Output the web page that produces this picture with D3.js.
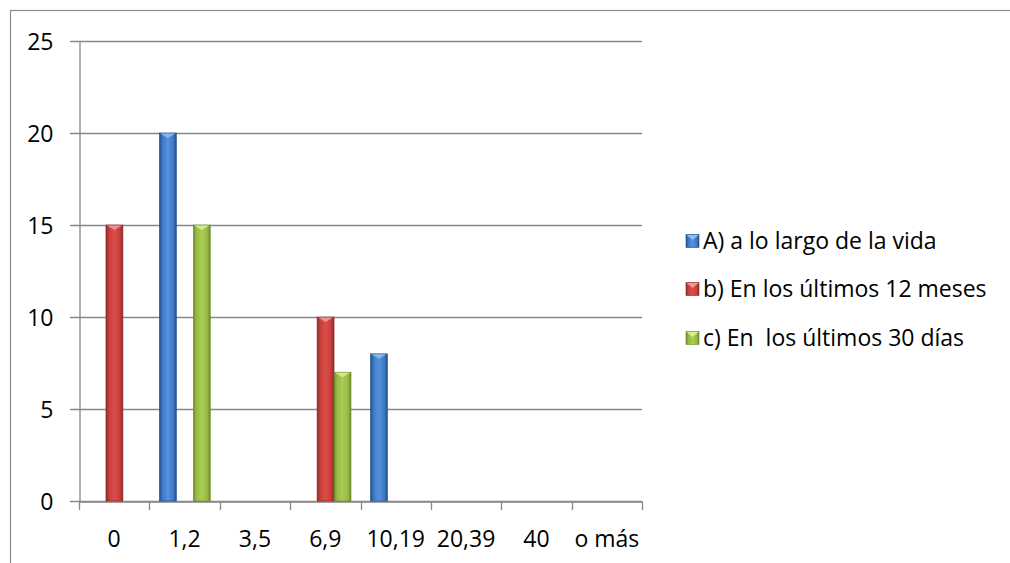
<!DOCTYPE html>
<html>
<head>
<meta charset="utf-8">
<script src="https://cdn.jsdelivr.net/npm/d3@7"></script>
<style>
  html, body { margin: 0; padding: 0; background: #fff; }
  svg { display: block; }
  svg text { font-family: "Open Sans", Carlito, Calibri, sans-serif; white-space: pre; }
</style>
</head>
<body>
<svg id="chart" width="1010" height="563"></svg>
<script>
// Categories (x axis) and series values
const categories = ["0", "1,2", "3,5", "6,9", "10,19", "20,39", "40", "o más"];
const seriesNames = ["A) a lo largo de la vida", "b) En los últimos 12 meses", "c) En  los últimos 30 días"];
const seriesA = [0, 20, 0, 0, 8, 0, 0, 0];
const seriesB = [15, 0, 0, 10, 0, 0, 0, 0];
const seriesC = [0, 15, 0, 7, 0, 0, 0, 0];
const yTicks = [0, 5, 10, 15, 20, 25];

const seriesValues = [seriesA, seriesB, seriesC];
const palette = [
  { base: "#3f78c2", dark: "#1f4f8e", light: "#5592de", cap: "#8fbdf2" },
  { base: "#c63f3c", dark: "#8e2725", light: "#dc4d49", cap: "#f09a98" },
  { base: "#98b948", dark: "#6c8a28", light: "#a9cd52", cap: "#d6ef8a" }
];
const FONT_SIZE = 23;

const svg = d3.select("#chart");
const defs = svg.append("defs");

palette.forEach((p, i) => {
  const g = defs.append("linearGradient").attr("id", "grad" + i)
    .attr("x1", "0").attr("x2", "1").attr("y1", "0").attr("y2", "0");
  g.append("stop").attr("offset", "0%").attr("stop-color", p.dark);
  g.append("stop").attr("offset", "18%").attr("stop-color", p.base);
  g.append("stop").attr("offset", "50%").attr("stop-color", p.light);
  g.append("stop").attr("offset", "82%").attr("stop-color", p.base);
  g.append("stop").attr("offset", "100%").attr("stop-color", p.dark);
});

// Chart frame (continues past the right and bottom edges)
svg.append("rect")
  .attr("x", 10.5).attr("y", 10.5)
  .attr("width", 1020).attr("height", 570)
  .attr("fill", "#fff").attr("stroke", "#8c8c8c").attr("stroke-width", 1.2);

const plot = { left: 79, right: 642, top: 41, bottom: 501 };

const x = d3.scaleBand().domain(categories).range([plot.left, plot.right]).paddingInner(0).paddingOuter(0);
const xInner = d3.scaleBand().domain(d3.range(seriesValues.length)).range([10, x.bandwidth() - 9.5]);
const y = d3.scaleLinear().domain([0, 25]).range([plot.bottom, plot.top]);

// Horizontal gridlines with tick stubs to the left
svg.append("g").selectAll("line").data(yTicks).join("line")
  .attr("x1", plot.left - 9).attr("x2", plot.right)
  .attr("y1", d => Math.round(y(d)) + 0.5).attr("y2", d => Math.round(y(d)) + 0.5)
  .attr("stroke", "#888").attr("stroke-width", 1.3);

// Y axis
const yAxis = d3.axisLeft(y).tickValues(yTicks).tickSize(0).tickPadding(0);
const yg = svg.append("g").attr("transform", `translate(${plot.left + 0.5},0)`).call(yAxis);
yg.attr("font-family", null).attr("font-size", null);
yg.select(".domain").attr("stroke", "#888").attr("stroke-width", 1.3);
yg.selectAll("text").attr("x", -26).attr("dy", "0.35em")
  .attr("font-size", FONT_SIZE).attr("fill", "#000");

// X axis
const xAxis = d3.axisBottom(x).tickSize(0).tickPadding(0);
const xg = svg.append("g").attr("transform", `translate(0,${plot.bottom + 0.5})`).call(xAxis);
xg.attr("font-family", null).attr("font-size", null);
xg.select(".domain").attr("stroke", "#888").attr("stroke-width", 1.3);
xg.selectAll("text").attr("y", 45.5).attr("dy", null)
  .attr("font-size", FONT_SIZE).attr("fill", "#000");
// Category boundary tick marks
const boundaries = categories.map(c => x(c)).concat([plot.right]);
xg.append("g").selectAll("line").data(boundaries).join("line")
  .attr("x1", d => Math.round(d) + 0.5).attr("x2", d => Math.round(d) + 0.5)
  .attr("y1", 0).attr("y2", 8.5)
  .attr("stroke", "#888").attr("stroke-width", 1.3);

// Bars
const bars = [];
seriesValues.forEach((vals, si) => {
  vals.forEach((v, ci) => bars.push({ si, cat: categories[ci], v }));
});
const barG = svg.append("g");
const drawn = bars.filter(d => d.v > 0);
barG.selectAll("rect.bar").data(drawn).join("rect")
  .attr("class", "bar")
  .attr("x", d => x(d.cat) + xInner(d.si))
  .attr("y", d => y(d.v))
  .attr("width", xInner.bandwidth())
  .attr("height", d => y(0) - y(d.v))
  .attr("fill", d => `url(#grad${d.si})`)
  .attr("stroke", d => palette[d.si].dark).attr("stroke-width", 0.6);
// Bevel cap at the top of each bar
barG.selectAll("path.cap").data(drawn).join("path")
  .attr("class", "cap")
  .attr("d", d => {
    const x0 = x(d.cat) + xInner(d.si), w = xInner.bandwidth(), y0 = y(d.v);
    return `M${x0 + 1},${y0 + 0.5} L${x0 + w - 1},${y0 + 0.5} L${x0 + w / 2},${y0 + 5} Z`;
  })
  .attr("fill", d => palette[d.si].cap).attr("opacity", 0.9);

// Legend
const legend = svg.append("g");
const legendRows = [241, 289, 338];
seriesNames.forEach((name, i) => {
  const row = legend.append("g").attr("transform", `translate(686,${legendRows[i]})`);
  row.append("rect").attr("x", 0).attr("y", -6.5).attr("width", 13).attr("height", 13)
    .attr("fill", `url(#grad${i})`).attr("stroke", palette[i].dark).attr("stroke-width", 0.6);
  row.append("path").attr("d", "M0.5,-6 L12.5,-6 L6.5,-1 Z").attr("fill", palette[i].cap);
  row.append("text").attr("x", 17).attr("y", 0).attr("dy", "0.36em")
    .attr("font-size", FONT_SIZE).attr("fill", "#000").text(name);
});
</script>
</body>
</html>
